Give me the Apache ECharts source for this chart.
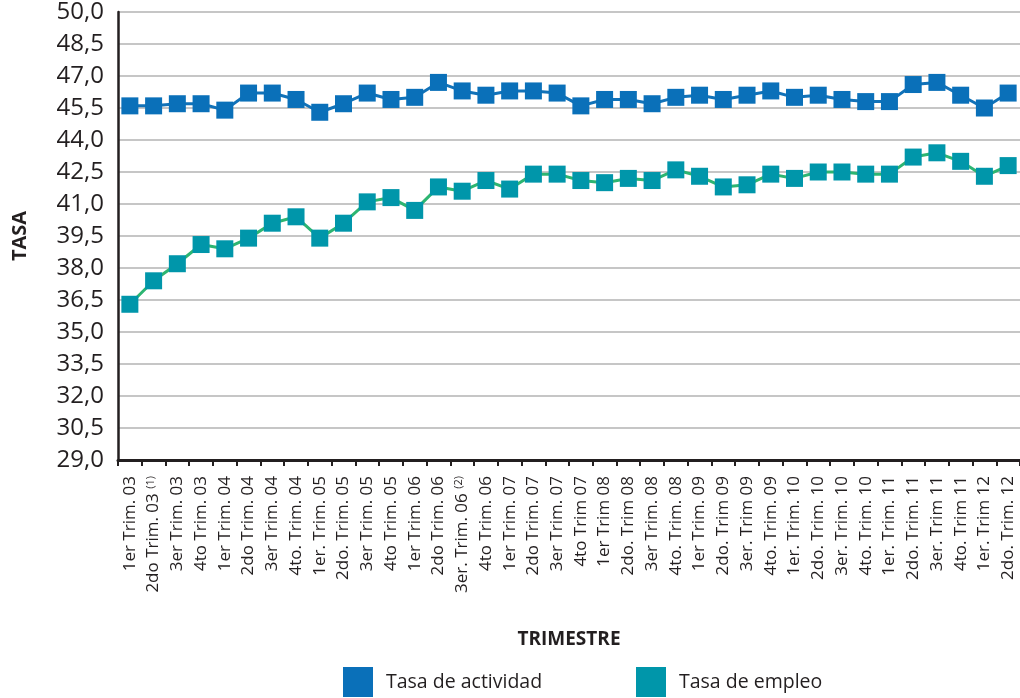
<!DOCTYPE html>
<html>
<head>
<meta charset="utf-8">
<script src="https://cdn.jsdelivr.net/npm/echarts@6/dist/echarts.min.js"></script>
<style>
html,body{margin:0;padding:0;background:#fff;}
#chart{width:1020px;height:698px;}
</style>
</head>
<body>
<div id="chart"></div>
<script>
const categories = [
  '1er Trim. 03','2do Trim. 03|(1)','3er Trim. 03','4to Trim. 03',
  '1er Trim. 04','2do Trim. 04','3er Trim. 04','4to. Trim. 04',
  '1er. Trim. 05','2do. Trim. 05','3er Trim. 05','4to Trim. 05',
  '1er Trim. 06','2do Trim. 06','3er. Trim. 06|(2)','4to Trim. 06',
  '1er Trim. 07','2do Trim. 07','3er Trim. 07','4to Trim 07',
  '1er Trim 08','2do. Trim 08','3er Trim. 08','4to. Trim. 08',
  '1er Trim. 09','2do. Trim 09','3er. Trim 09','4to. Trim. 09',
  '1er. Trim. 10','2do. Trim. 10','3er. Trim. 10','4to. Trim. 10',
  '1er. Trim. 11','2do. Trim. 11','3er. Trim 11','4to. Trim 11',
  '1er. Trim 12','2do. Trim. 12'
];
const tasaActividad = [
  45.6,45.6,45.7,45.7,45.4,46.2,46.2,45.9,45.3,45.7,46.2,45.9,
  46.0,46.7,46.3,46.1,46.3,46.3,46.2,45.6,45.9,45.9,45.7,46.0,
  46.1,45.9,46.1,46.3,46.0,46.1,45.9,45.8,45.8,46.6,46.7,46.1,
  45.5,46.2
];
const tasaEmpleo = [
  36.3,37.4,38.2,39.1,38.9,39.4,40.1,40.4,39.4,40.1,41.1,41.3,
  40.7,41.8,41.6,42.1,41.7,42.4,42.4,42.1,42.0,42.2,42.1,42.6,
  42.3,41.8,41.9,42.4,42.2,42.5,42.5,42.4,42.4,43.2,43.4,43.0,
  42.3,42.8
];
const seriesNames = ['Tasa de actividad','Tasa de empleo'];
const yAxisName = 'TASA';
const xAxisName = 'TRIMESTRE';

const FONT = '"Open Sans", "Noto Sans", sans-serif';
const chart = echarts.init(document.getElementById('chart'), null, {renderer:'canvas'});
chart.setOption({
  animation:false,
  backgroundColor:'#ffffff',
  grid:{left:118, right:0, top:12, bottom:238, containLabel:false, outerBoundsMode:'none'},
  legend:[
    {data:[seriesNames[0]], left:338, top:662, icon:'rect', itemWidth:30, itemHeight:30, itemGap:0,
     textStyle:{fontFamily:FONT, fontSize:19.5, color:'#231f20', padding:[0,0,0,8]}},
    {data:[seriesNames[1]], left:631, top:662, icon:'rect', itemWidth:30, itemHeight:30, itemGap:0,
     textStyle:{fontFamily:FONT, fontSize:19.5, color:'#231f20', padding:[0,0,0,8]}}
  ],
  xAxis:{
    type:'category',
    data:categories,
    boundaryGap:true,
    name:xAxisName,
    nameLocation:'middle',
    nameGap:170,
    nameTextStyle:{fontFamily:FONT, fontWeight:'bold', fontSize:19, color:'#231f20'},
    axisLine:{lineStyle:{color:'#231f20', width:3}},
    axisTick:{show:true, length:6, lineStyle:{color:'#231f20', width:2}},
    axisLabel:{
      interval:0, rotate:90, margin:16,
      fontFamily:FONT, fontSize:17, color:'#231f20',
      formatter:function(v){
        const p = v.split('|');
        return p.length > 1 ? '{a|' + p[0] + ' }{s|' + p[1] + '}' : '{a|' + v + '}';
      },
      rich:{
        a:{fontFamily:FONT, fontSize:17, color:'#231f20'},
        s:{fontFamily:FONT, fontSize:11, color:'#231f20', verticalAlign:'top', padding:[0,0,6,0]}
      }
    },
    splitLine:{show:false}
  },
  yAxis:{
    type:'value',
    min:29, max:50, interval:1.5,
    name:yAxisName,
    nameLocation:'middle',
    nameGap:88,
    nameTextStyle:{fontFamily:FONT, fontWeight:'bold', fontSize:20, color:'#231f20'},
    axisLine:{show:true, lineStyle:{color:'#231f20', width:2.5}},
    axisTick:{show:false},
    axisLabel:{
      margin:14, fontFamily:FONT, fontSize:24, color:'#231f20',
      formatter:function(v){ return v.toFixed(1).replace('.', ','); }
    },
    splitLine:{show:true, lineStyle:{color:'#b3b3b3', width:1.5}}
  },
  series:[
    {
      name:seriesNames[0], type:'line', data:tasaActividad,
      symbol:'rect', symbolSize:17,
      itemStyle:{color:'#0a70b9'},
      lineStyle:{color:'#1272b8', width:3},
      z:3
    },
    {
      name:seriesNames[1], type:'line', data:tasaEmpleo,
      symbol:'rect', symbolSize:17,
      itemStyle:{color:'#0096aa'},
      lineStyle:{color:'#2db572', width:3},
      z:2
    }
  ]
});
</script>
</body>
</html>
